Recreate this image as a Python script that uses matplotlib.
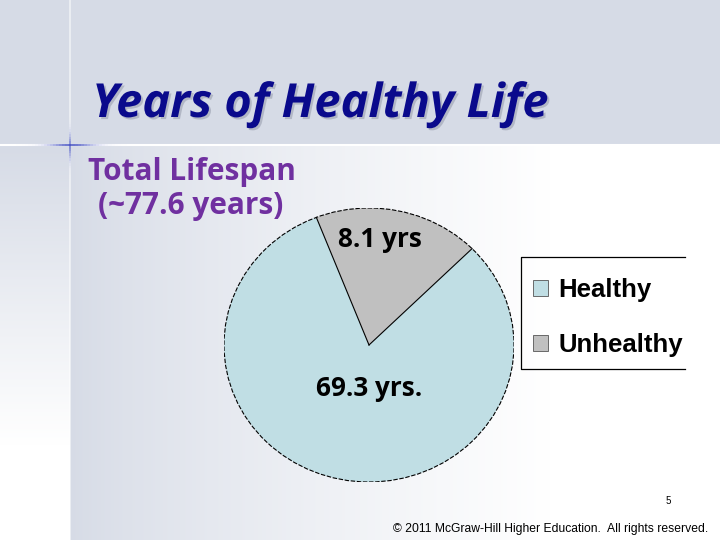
import numpy as np
import matplotlib.pyplot as plt
from matplotlib.collections import LineCollection
from matplotlib.patches import Ellipse
import matplotlib.patheffects as pe

# data
labels = ["Healthy", "Unhealthy"]
years = [69.3, 8.1]
# share of the circle each slice takes on the slide (%)
shares = [81.5, 18.5]
colors = ["#C0DEE4", "#C0C0C0"]

W, H = 720, 540
fig = plt.figure(figsize=(7.2, 5.4), dpi=100)

# slide background
bg = fig.add_axes([0, 0, 1, 1])
yy, xx = np.mgrid[0:H, 0:W]
gray = np.array([214, 219, 230]) / 255
t = np.ones((H, W))
t[yy < 145] = 0
right = (yy >= 145) & (xx >= 70)
t[right] = np.clip((xx[right] - 70) / 480, 0, 1) ** 0.8
left = (yy >= 145) & (xx < 70)
t[left] = np.clip((yy[left] - 145) / 300, 0, 1)
img = gray[None, None, :] + (1 - gray)[None, None, :] * t[:, :, None]
bg.imshow(img, aspect="auto", extent=(0, W, H, 0))
bg.set_xlim(0, W)
bg.set_ylim(H, 0)
bg.set_axis_off()

# cross lines
bg.plot([0, W], [145, 145], color="white", lw=1.5)
bg.plot([70, 70], [0, H], color="white", lw=1.2, alpha=0.6)
xs = np.linspace(10, 130, 40)
segs = [[(xs[i], 145), (xs[i + 1], 145)] for i in range(len(xs) - 1)]
a = 0.8 * np.exp(-((xs[:-1] - 70) / 22) ** 2)
bg.add_collection(LineCollection(segs, colors=[(0.25, 0.3, 0.75, v) for v in a], lw=1.4))
ys = np.linspace(110, 180, 30)
segs = [[(70, ys[i]), (70, ys[i + 1])] for i in range(len(ys) - 1)]
a = 0.6 * np.exp(-((ys[:-1] - 145) / 12) ** 2)
bg.add_collection(LineCollection(segs, colors=[(0.25, 0.3, 0.75, v) for v in a], lw=1.4))

# titles
bg.text(92, 117, "Years of Healthy Life", fontsize=33.8, fontweight="bold", style="italic",
        family="Open Sans", color="#0A0A8C", va="baseline",
        path_effects=[pe.withSimplePatchShadow(offset=(1.5, -1.5), shadow_rgbFace="#9aa0b0", alpha=0.6)])
bg.text(88, 180, "Total Lifespan", fontsize=21.4, fontweight="bold", family="Open Sans",
        color="#7030A0", va="baseline")
bg.text(98, 214, "(~77.6 years)", fontsize=21.4, fontweight="bold", family="Open Sans",
        color="#7030A0", va="baseline")

# pie
ax = fig.add_axes([224 / W, (H - 482) / H, 290 / W, 274 / H])
wedges, _ = ax.pie(shares, colors=colors, startangle=111.3,
                   wedgeprops=dict(linewidth=0))
ax.set_aspect("auto")
ax.set_xlim(-1, 1)
ax.set_ylim(-1, 1)
ax.add_patch(Ellipse((0, 0), 2, 2, fill=False, ls=(0, (4, 1.5)), lw=0.8, color="black"))
for w in wedges:
    th = np.deg2rad(w.theta1)
    ax.plot([0, np.cos(th)], [0, np.sin(th)], color="black", lw=0.8)

ax.text(0.076, 0.77, f"{years[1]} yrs", ha="center", va="center", fontsize=18.8,
        fontweight="bold", family="Open Sans")
ax.text(0.0, -0.32, f"{years[0]} yrs.", ha="center", va="center", fontsize=18.8,
        fontweight="bold", family="Open Sans")

# legend box (right side is cut off on the slide)
bg.plot([685, 521, 521, 685], [257, 257, 369, 369], color="black", lw=0.9)
leg = fig.legend(wedges, labels, loc="upper left", bbox_to_anchor=(533 / W, 1 - 278 / H),
                 borderaxespad=0, borderpad=0, frameon=False,
                 prop=dict(family="Liberation Sans", weight="bold", size=18.5),
                 handlelength=0.6, handleheight=0.6, handletextpad=0.4,
                 labelspacing=1.2)
for h in leg.legend_handles:
    h.set_edgecolor("#555555")
    h.set_linewidth(0.6)

# footer
bg.text(668, 501, "5", fontsize=7, family="Liberation Sans", ha="center", va="center")
bg.text(708, 529, "\u00a9 2011 McGraw-Hill Higher Education.  All rights reserved.",
        fontsize=8.7, family="Liberation Sans", ha="right", va="center")

fig.savefig("out.png", dpi=100)
